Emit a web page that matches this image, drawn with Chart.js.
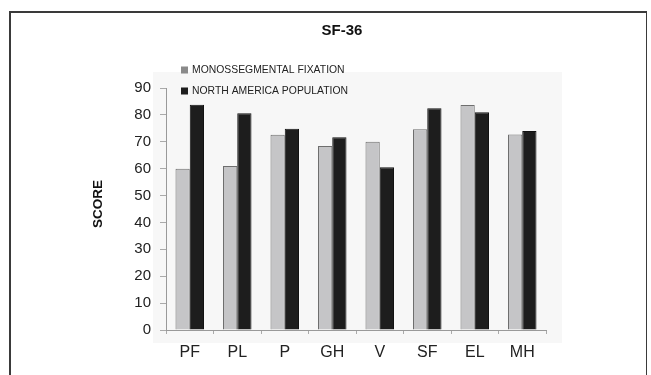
<!DOCTYPE html>
<html lang="en">
<head>
    <meta charset="UTF-8">
    <title>SF-36</title>
    <script src="https://cdn.jsdelivr.net/npm/chart.js"></script>
    <style>
        html, body { margin: 0; padding: 0; background: #fff; overflow: hidden; }
        #wrap { position: relative; width: 651px; height: 375px; }
        #frame { position: absolute; left: 9px; top: 11px; width: 635px; height: 380px; border: 1px solid #3a3a3a; border-width: 2px 1px 1px 2px; }
        canvas { position: absolute; left: 0; top: 0; }
    </style>
</head>
<body>
    <div id="wrap">
        <div id="frame"></div>
        <canvas id="sfChart" width="651" height="375"></canvas>
    </div>

    <script>
        const chartTitle = 'SF-36';
        const yTitle = 'SCORE';
        const domains = ['PF', 'PL', 'P', 'GH', 'V', 'SF', 'EL', 'MH'];
        const seriesNames = ['MONOSSEGMENTAL FIXATION', 'NORTH AMERICA POPULATION'];
        const monoValues = [60, 61, 72.6, 68.4, 70, 74.7, 83.7, 72.7];
        const northAmValues = [83.8, 80.6, 74.8, 71.7, 60.5, 82.5, 81, 74];
        const yTicks = [0, 10, 20, 30, 40, 50, 60, 70, 80, 90];

        const FONT = '"Liberation Sans", Arial, sans-serif';

        // title, y title, legend and faint plot background
        const decor = {
            id: 'decor',
            beforeDraw(chart) {
                const ctx = chart.ctx;
                const a = chart.chartArea;
                ctx.save();
                ctx.fillStyle = '#f7f7f7';
                ctx.fillRect(a.left - 13, a.top - 16, a.right - a.left + 29, a.bottom - a.top + 29);
                ctx.restore();
            },
            afterDraw(chart) {
                const ctx = chart.ctx;
                ctx.save();
                ctx.fillStyle = '#111';
                ctx.font = 'bold 15px ' + FONT;
                ctx.textAlign = 'center';
                ctx.textBaseline = 'middle';
                ctx.fillText(chartTitle, 342, 31);

                ctx.translate(98, 204);
                ctx.rotate(-Math.PI / 2);
                ctx.font = 'bold 13.5px ' + FONT;
                ctx.fillText(yTitle, 0, 0);
                ctx.restore();

                ctx.save();
                ctx.font = '10.4px ' + FONT;
                ctx.textAlign = 'left';
                ctx.textBaseline = 'middle';
                chart.data.datasets.forEach(function(ds, i) {
                    const y = 70 + i * 21;
                    ctx.fillStyle = i === 0 ? '#8a8a8a' : ds.backgroundColor;
                    ctx.fillRect(181, y - 3.5, 7, 7);
                    ctx.fillStyle = '#222';
                    ctx.fillText(ds.label, 192, y);
                });
                ctx.restore();
            }
        };

        const ctx = document.getElementById('sfChart').getContext('2d');
        new Chart(ctx, {
            type: 'bar',
            data: {
                labels: domains,
                datasets: [{
                    label: seriesNames[0],
                    data: monoValues,
                    backgroundColor: '#c5c5c7',
                    borderColor: '#6e6e6e',
                    borderWidth: 1,
                    barPercentage: 1,
                    categoryPercentage: 0.6
                }, {
                    label: seriesNames[1],
                    data: northAmValues,
                    backgroundColor: '#1d1d1d',
                    borderColor: '#111',
                    borderWidth: 1,
                    barPercentage: 1,
                    categoryPercentage: 0.6
                }]
            },
            options: {
                responsive: false,
                animation: false,
                layout: { padding: { top: 88, left: 0, right: 105, bottom: 0 } },
                plugins: {
                    legend: { display: false },
                    title: { display: false },
                    tooltip: { enabled: false }
                },
                scales: {
                    x: {
                        afterFit: function(s) { s.height = 45; },
                        grid: { drawOnChartArea: false, offset: true, tickLength: 4, color: '#aaa' },
                        border: { color: '#999' },
                        ticks: { color: '#222', font: { family: FONT, size: 16 }, padding: 9 }
                    },
                    y: {
                        min: 0,
                        max: 90,
                        afterFit: function(s) { s.width = 166; },
                        afterBuildTicks: function(s) { s.ticks = yTicks.map(v => ({ value: v })); },
                        grid: { drawOnChartArea: false, tickLength: 6, color: '#aaa' },
                        border: { color: '#999' },
                        ticks: { color: '#222', font: { family: FONT, size: 15 }, padding: 9 }
                    }
                }
            },
            plugins: [decor]
        });
    </script>
</body>
</html>
